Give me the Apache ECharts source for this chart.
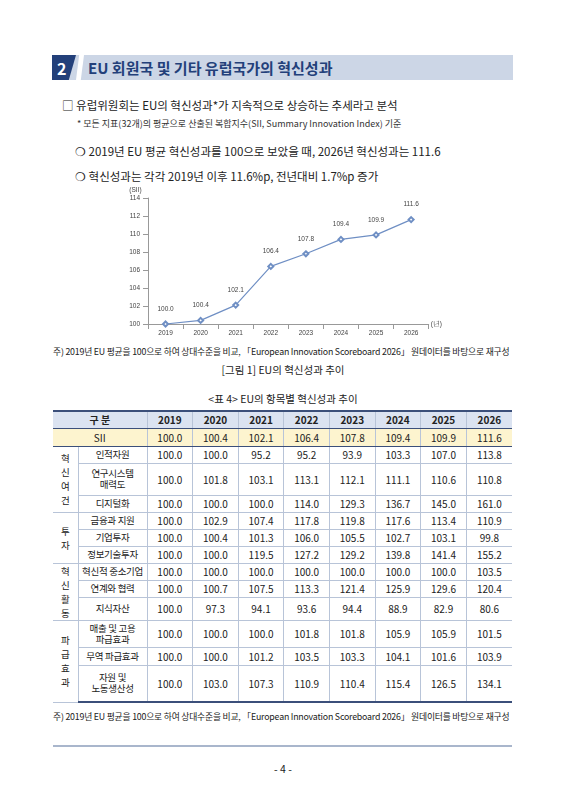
<!DOCTYPE html>
<html><head><meta charset="utf-8">
<script src="https://cdn.jsdelivr.net/npm/echarts@6/dist/echarts.min.js"></script>
<style>
body{margin:0;width:566px;height:800px;background:#fff;font-family:"Noto Sans CJK KR","Noto Sans",sans-serif;color:#222;position:relative;overflow:hidden}
.abs{position:absolute;white-space:nowrap}
table{border-collapse:collapse;position:absolute;left:53px;top:410px;width:459px;font-size:10px;table-layout:fixed}
td{text-align:center;padding:0;border:1px solid #b8c4d8;line-height:11px;overflow:hidden}
td.n{font-size:9.5px;letter-spacing:-0.3px;white-space:nowrap}
tr.h td{background:#dbe3f1;font-weight:bold;border-top:2px solid #3b4f7a;border-bottom:1.5px solid #3b4f7a}
tr.s td{background:#fdf4cf;border-bottom:1.5px solid #3b4f7a}
tr.g td{border-top:1.5px solid #3b4f7a}
tr.last td{border-bottom:2px solid #3b4f7a}
td.grp{line-height:14px;font-size:9.5px}
table tr td:first-child{border-left:none}
table tr td:last-child{border-right:none}
.note{font-size:8.8px;letter-spacing:-0.2px}
</style></head><body>
<div class="abs" style="left:52px;top:55px;width:461px;height:25px;background:#ccd6e6"></div>
<div class="abs" style="left:52px;top:55px;width:24px;height:25px;background:#23407a;clip-path:polygon(0 0,100% 0,70% 100%,0 100%)"></div>
<div class="abs" style="left:57px;top:56px;color:#fff;font-size:16px;font-weight:bold">2</div>
<div class="abs" style="left:76px;top:55px;width:8px;height:25px;background:#fff;clip-path:polygon(40% 0,100% 0,60% 100%,0 100%)"></div>
<div class="abs" style="left:88px;top:57px;color:#23407a;font-size:15px;font-weight:bold">EU 회원국 및 기타 유럽국가의 혁신성과</div>
<div class="abs" style="left:62px;top:97px;font-size:11.5px">□ 유럽위원회는 EU의 혁신성과*가 지속적으로 상승하는 추세라고 분석</div>
<div class="abs" style="left:77px;top:117px;font-size:9px;color:#333">* 모든 지표(32개)의 평균으로 산출된 복합지수(SII, Summary Innovation Index) 기준</div>
<div class="abs" style="left:75px;top:143px;font-size:11.5px">❍ 2019년 EU 평균 혁신성과를 100으로 보았을 때, 2026년 혁신성과는 111.6</div>
<div class="abs" style="left:75px;top:168px;font-size:11.5px">❍ 혁신성과는 각각 2019년 이후 11.6%p, 전년대비 1.7%p 증가</div>
<div id="c" class="abs" style="left:95px;top:185px;width:350px;height:160px"></div>
<div class="abs note" style="left:53px;top:345px">주) 2019년 EU 평균을 100으로 하여 상대수준을 비교, 「European Innovation Scoreboard 2026」 원데이터를 바탕으로 재구성</div>
<div class="abs" style="left:0;width:566px;text-align:center;top:362px;font-size:10.5px">[그림 1] EU의 혁신성과 추이</div>
<div class="abs" style="left:0;width:566px;text-align:center;top:391px;font-size:10.5px">&lt;표 4&gt; EU의 항목별 혁신성과 추이</div>
<table id="t"></table>
<div class="abs note" style="left:53px;top:710px">주) 2019년 EU 평균을 100으로 하여 상대수준을 비교, 「European Innovation Scoreboard 2026」 원데이터를 바탕으로 재구성</div>
<div class="abs" style="left:53px;top:745px;width:459px;height:2px;background:#a9b6cc"></div>
<div class="abs" style="left:0;width:566px;text-align:center;top:761px;font-size:10.5px">- 4 -</div>
<script>
const years=["2019","2020","2021","2022","2023","2024","2025","2026"];
const sii=[100.0,100.4,102.1,106.4,107.8,109.4,109.9,111.6];
const groups=[["혁<br>신<br>여<br>건",3],["투<br>자",3],["혁<br>신<br>활<br>동",3],["파<br>급<br>효<br>과",3]];
const rowNames=["인적자원","연구시스템<br>매력도","디지털화","금융과 지원","기업투자","정보기술투자","혁신적 중소기업","연계와 협력","지식자산","매출 및 고용<br>파급효과","무역 파급효과","자원 및<br>노동생산성"];
const rowValues=[
[100.0,100.0,95.2,95.2,93.9,103.3,107.0,113.8],
[100.0,101.8,103.1,113.1,112.1,111.1,110.6,110.8],
[100.0,100.0,100.0,114.0,129.3,136.7,145.0,161.0],
[100.0,102.9,107.4,117.8,119.8,117.6,113.4,110.9],
[100.0,100.4,101.3,106.0,105.5,102.7,103.1,99.8],
[100.0,100.0,119.5,127.2,129.2,139.8,141.4,155.2],
[100.0,100.0,100.0,100.0,100.0,100.0,100.0,103.5],
[100.0,100.7,107.5,113.3,121.4,125.9,129.6,120.4],
[100.0,97.3,94.1,93.6,94.4,88.9,82.9,80.6],
[100.0,100.0,100.0,101.8,101.8,105.9,105.9,101.5],
[100.0,100.0,101.2,103.5,103.3,104.1,101.6,103.9],
[100.0,103.0,107.3,110.9,110.4,115.4,126.5,134.1]];
const rowHeights=[17,32,17,17,17,17,17,17,22,27,18,37];
const f=v=>v.toFixed(1);
let h='<colgroup><col style="width:25px"><col style="width:69px">'+years.map(()=>'<col>').join('')+'</colgroup>';
h+='<tr class="h" style="height:17px"><td colspan="2">구 분</td>'+years.map(y=>'<td>'+y+'</td>').join('')+'</tr>';
h+='<tr class="s" style="height:18px"><td colspan="2">SII</td>'+sii.map(v=>'<td>'+f(v)+'</td>').join('')+'</tr>';
let r=0;
groups.forEach((g,gi)=>{for(let k=0;k<g[1];k++){
 let cls=(k==0&&gi>0?'g':'')+(r==rowNames.length-1?' last':'');
 h+='<tr class="'+cls+'" style="height:'+rowHeights[r]+'px">'+(k==0?'<td class="grp" rowspan="'+g[1]+'">'+g[0]+'</td>':'')+'<td class="n">'+rowNames[r]+'</td>'+rowValues[r].map(v=>'<td>'+f(v)+'</td>').join('')+'</tr>';
 r++;}});
document.getElementById('t').innerHTML=h;
const ch=echarts.init(document.getElementById('c'));
ch.setOption({animation:false,
grid:{left:53,right:12,top:13,bottom:21},
xAxis:{type:'category',data:years,boundaryGap:true,name:'(년)',nameGap:2,nameTextStyle:{fontSize:6.5,color:'#444',padding:[14,0,0,0]},
 axisLine:{lineStyle:{color:'#999'}},axisTick:{show:true,lineStyle:{color:'#999'}},axisLabel:{fontSize:6.5,color:'#444',margin:6}},
yAxis:{type:'value',min:100,max:114,interval:2,name:'(SII)',nameGap:4,nameTextStyle:{fontSize:6.5,color:'#444',padding:[0,25,0,0]},
 axisLine:{show:true,lineStyle:{color:'#999'}},axisTick:{show:true,lineStyle:{color:'#999'}},splitLine:{show:false},axisLabel:{fontSize:6.5,color:'#444'}},
series:[{type:'line',data:sii,symbol:'emptyDiamond',symbolSize:5,lineStyle:{color:'#6f8fc4',width:1.2},itemStyle:{color:'#6f8fc4'},
 label:{show:true,position:'top',distance:8,fontSize:6.5,color:'#444',formatter:p=>f(p.value)}}]});
</script></body></html>
